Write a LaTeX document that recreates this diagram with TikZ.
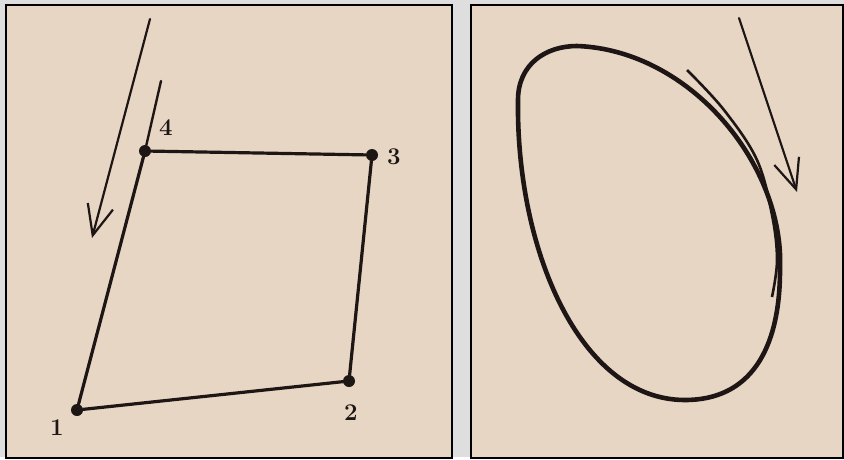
\documentclass[tikz,border=0pt]{standalone}
\usetikzlibrary{arrows.meta}
\definecolor{paper}{RGB}{231,214,196}
\definecolor{frame}{RGB}{222,222,222}
\definecolor{ink}{RGB}{30,22,20}
\begin{document}
\begin{tikzpicture}[x=1pt,y=-1pt,
  panel/.style={fill=paper, draw=black, line width=2pt},
  edge/.style={draw=ink, line width=3.2pt, line cap=round},
  dot/.style={circle, fill=ink, inner sep=0pt, minimum size=12pt},
  lbl/.style={text=ink, font=\fontsize{24}{24}\selectfont\bfseries},
  arr/.style={draw=ink, line width=2.2pt, line cap=round, -{Straight Barb[length=30pt,width=26pt,line width=2.2pt]}},
  egg/.style={draw=ink, line width=4.6pt}]
% background and the two panels
\fill[frame] (0,0) rectangle (844,457);
\draw[panel] (6,5) rectangle (452,458);
\draw[panel] (471,5) rectangle (843,458);
% left panel: the four corners
\node[dot] (p1) at (77,410) {};
\node[dot] (p2) at (349,381) {};
\node[dot] (p3) at (372,155) {};
\node[dot] (p4) at (145,151) {};
\node[lbl] (l1) at (57,428) {1};
\node[lbl] (l2) at (351,413) {2};
\node[lbl] (l3) at (394,157) {3};
\node[lbl] (l4) at (166,128) {4};
\coordinate (t4) at (161,81);
\draw[edge] (p1) -- (p2);
\draw[edge] (p2) -- (p3);
\draw[edge] (p3) -- (p4);
\draw[edge] (p1) -- (p4);
\draw[edge, line width=2.4pt] (p4) -- (t4);
\coordinate (a0) at (150,19);
\coordinate (a1) at (92,238);
\draw[arr] (a0) -- (a1);
% right panel: the closed curve
\coordinate (eT) at (577,46);
\coordinate (eR) at (780,270);
\coordinate (eB) at (685,400);
\coordinate (eL) at (518,100);
\draw[egg] (eT) .. controls (690,50) and (785,165) .. (eR)
  .. controls (780,350) and (750,400) .. (eB)
  .. controls (580,400) and (516,250) .. (eL)
  .. controls (518,64) and (546,46) .. (eT) -- cycle;
\draw[egg, line width=2.6pt] plot[smooth, tension=0.6] coordinates {(687,70) (724,110) (757,160) (772,215) (777,260) (772,297)};
\coordinate (b0) at (739,18);
\coordinate (b1) at (797,192);
\draw[arr] (b0) -- (b1);
\end{tikzpicture}
\end{document}
